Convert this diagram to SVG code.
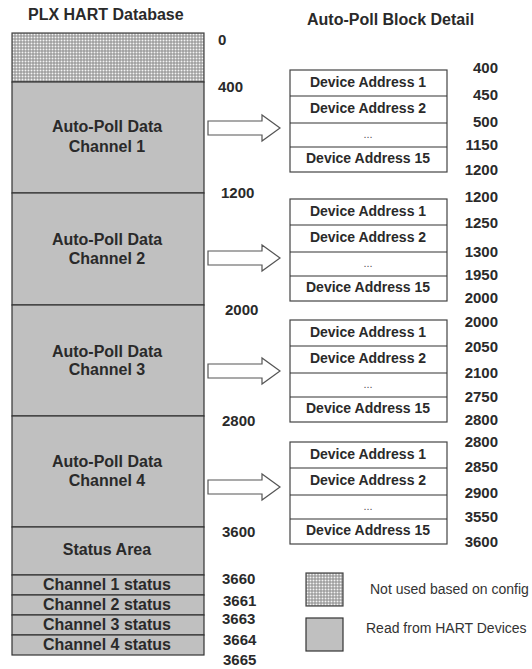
<svg xmlns="http://www.w3.org/2000/svg" width="532" height="669" viewBox="0 0 532 669">
<style>
  text { font-family: "Liberation Sans", Arial, sans-serif; fill: #2a2a2a; }
  .t { font-size: 16px; font-weight: bold; }
  .c { font-size: 16px; font-weight: bold; text-anchor: middle; }
  .n { font-size: 15px; font-weight: bold; }
  .r { font-size: 15px; font-weight: bold; text-anchor: end; }
  .d { font-size: 14px; font-weight: bold; text-anchor: middle; }
  .dots { font-size: 11px; text-anchor: middle; fill: #555; }
  .lg { font-size: 14px; fill: #333; }
  .gray { fill: #c0c0c0; stroke: #333; stroke-width: 1.2; }
  .dotted { fill: url(#dotpat); stroke: #444; stroke-width: 1.2; }
  .box { fill: #fff; stroke: #444; stroke-width: 1.2; }
  .line { stroke: #333; stroke-width: 1.2; fill: none; }
  .arrow { fill: #fff; stroke: #555; stroke-width: 1.2; }
</style>
<defs>
  <pattern id="dotpat" width="3" height="3" patternUnits="userSpaceOnUse">
    <rect width="3" height="3" fill="#8a8a8a"/>
    <rect x="0.5" y="0.5" width="2" height="2" fill="#f4f4f4"/>
  </pattern>
</defs>

<text class="t" x="28" y="20">PLX HART Database</text>
<text class="t" x="307" y="25">Auto-Poll Block Detail</text>

<g id="database">
  <g id="unused">
    <rect class="dotted" x="12" y="33" width="192" height="49"/>
  </g>
  <g id="channel1-data">
    <rect class="gray" x="12" y="82" width="192" height="111"/>
    <text class="c" x="107" y="132">Auto-Poll Data</text>
    <text class="c" x="107" y="152">Channel 1</text>
  </g>
  <g id="channel2-data">
    <rect class="gray" x="12" y="193" width="192" height="112"/>
    <text class="c" x="107" y="245">Auto-Poll Data</text>
    <text class="c" x="107" y="264">Channel 2</text>
  </g>
  <g id="channel3-data">
    <rect class="gray" x="12" y="305" width="192" height="111"/>
    <text class="c" x="107" y="357">Auto-Poll Data</text>
    <text class="c" x="107" y="375">Channel 3</text>
  </g>
  <g id="channel4-data">
    <rect class="gray" x="12" y="416" width="192" height="111"/>
    <text class="c" x="107" y="467">Auto-Poll Data</text>
    <text class="c" x="107" y="486">Channel 4</text>
  </g>
  <g id="status-area">
    <rect class="gray" x="12" y="527" width="192" height="48"/>
    <text class="c" x="107" y="555">Status Area</text>
  </g>
  <g id="ch1-status">
    <rect class="gray" x="12" y="575" width="192" height="20"/>
    <text class="c" x="107" y="590">Channel 1 status</text>
  </g>
  <g id="ch2-status">
    <rect class="gray" x="12" y="595" width="192" height="20"/>
    <text class="c" x="107" y="610">Channel 2 status</text>
  </g>
  <g id="ch3-status">
    <rect class="gray" x="12" y="615" width="192" height="20"/>
    <text class="c" x="107" y="630">Channel 3 status</text>
  </g>
  <g id="ch4-status">
    <rect class="gray" x="12" y="635" width="192" height="20"/>
    <text class="c" x="107" y="650">Channel 4 status</text>
  </g>
</g>

<g id="db-offsets">
  <text class="n" x="218" y="45">0</text>
  <text class="n" x="218" y="92">400</text>
  <text class="n" x="221" y="198">1200</text>
  <text class="n" x="225" y="315">2000</text>
  <text class="n" x="222" y="426">2800</text>
  <text class="n" x="222" y="537">3600</text>
  <text class="n" x="222" y="584">3660</text>
  <text class="n" x="223" y="606">3661</text>
  <text class="n" x="222" y="624">3663</text>
  <text class="n" x="223" y="645">3664</text>
  <text class="n" x="223" y="665">3665</text>
</g>

<g id="connectors">
  <path class="arrow" d="M208,121 H262 V115 L280,128 L262,141 V135 H208 Z"/>
  <path class="arrow" d="M208,251 H262 V245 L280,258 L262,271 V265 H208 Z"/>
  <path class="arrow" d="M208,364 H262 V358 L280,371 L262,384 V378 H208 Z"/>
  <path class="arrow" d="M208,480 H262 V474 L280,487 L262,500 V494 H208 Z"/>
</g>

<g id="block1">
  <rect class="box" x="290" y="70" width="157" height="102"/>
  <path class="line" d="M290,96 H447 M290,123 H447 M290,147 H447"/>
  <text class="d" x="368" y="87">Device Address 1</text>
  <text class="d" x="368" y="113">Device Address 2</text>
  <text class="dots" x="368" y="138">...</text>
  <text class="d" x="368" y="163">Device Address 15</text>
  <text class="r" x="498" y="73">400</text>
  <text class="r" x="498" y="100">450</text>
  <text class="r" x="498" y="127">500</text>
  <text class="r" x="498" y="150">1150</text>
  <text class="r" x="498" y="175">1200</text>
</g>

<g id="block2">
  <rect class="box" x="290" y="199" width="157" height="102"/>
  <path class="line" d="M290,225 H447 M290,252 H447 M290,276 H447"/>
  <text class="d" x="368" y="216">Device Address 1</text>
  <text class="d" x="368" y="242">Device Address 2</text>
  <text class="dots" x="368" y="267">...</text>
  <text class="d" x="368" y="292">Device Address 15</text>
  <text class="r" x="498" y="202">1200</text>
  <text class="r" x="498" y="228">1250</text>
  <text class="r" x="498" y="257">1300</text>
  <text class="r" x="498" y="280">1950</text>
  <text class="r" x="498" y="303">2000</text>
</g>

<g id="block3">
  <rect class="box" x="290" y="320" width="157" height="102"/>
  <path class="line" d="M290,346 H447 M290,373 H447 M290,397 H447"/>
  <text class="d" x="368" y="337">Device Address 1</text>
  <text class="d" x="368" y="363">Device Address 2</text>
  <text class="dots" x="368" y="388">...</text>
  <text class="d" x="368" y="413">Device Address 15</text>
  <text class="r" x="498" y="327">2000</text>
  <text class="r" x="498" y="352">2050</text>
  <text class="r" x="498" y="378">2100</text>
  <text class="r" x="498" y="402">2750</text>
  <text class="r" x="498" y="425">2800</text>
</g>

<g id="block4">
  <rect class="box" x="290" y="442" width="157" height="102"/>
  <path class="line" d="M290,468 H447 M290,495 H447 M290,519 H447"/>
  <text class="d" x="368" y="459">Device Address 1</text>
  <text class="d" x="368" y="485">Device Address 2</text>
  <text class="dots" x="368" y="510">...</text>
  <text class="d" x="368" y="535">Device Address 15</text>
  <text class="r" x="498" y="447">2800</text>
  <text class="r" x="498" y="472">2850</text>
  <text class="r" x="498" y="498">2900</text>
  <text class="r" x="498" y="522">3550</text>
  <text class="r" x="498" y="547">3600</text>
</g>

<g id="legend-unused">
  <rect class="dotted" x="306" y="573" width="37" height="33"/>
  <text class="lg" x="370" y="594">Not used based on config</text>
</g>
<g id="legend-read">
  <rect class="gray" x="306" y="618" width="37" height="33" stroke-width="2"/>
  <text class="lg" x="366" y="633">Read from HART Devices</text>
</g>
</svg>
